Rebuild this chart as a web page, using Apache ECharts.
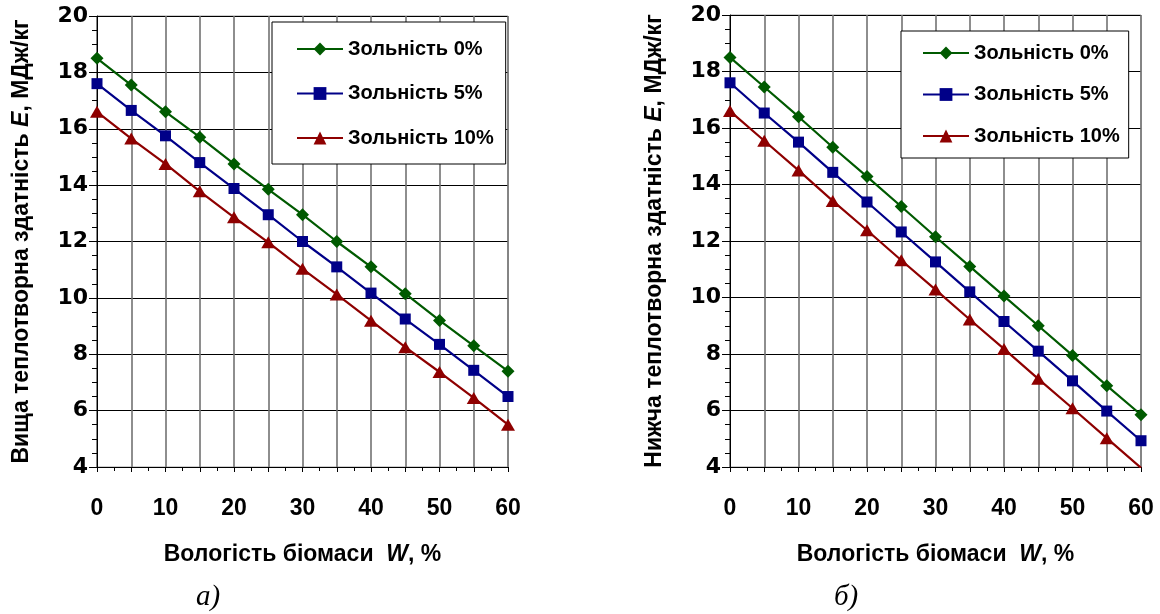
<!DOCTYPE html>
<html>
<head>
<meta charset="utf-8">
<script src="https://cdn.jsdelivr.net/npm/echarts@6/dist/echarts.min.js"></script>
<style>
html,body{margin:0;padding:0;background:#fff;}
#c{width:1160px;height:614px;}
</style>
</head>
<body>
<div id="c"></div>
<script>
// ---- data ----
const moisture = [0, 5, 10, 15, 20, 25, 30, 35, 40, 45, 50, 55, 60];
const seriesNames = ['Зольність 0%', 'Зольність 5%', 'Зольність 10%'];
// a) higher heating value
const higherAsh0  = [18.5, 17.55, 16.6, 15.7, 14.75, 13.85, 12.95, 12.0, 11.1, 10.15, 9.2, 8.3, 7.4];
const higherAsh5  = [17.6, 16.65, 15.75, 14.8, 13.88, 12.95, 12.0, 11.1, 10.17, 9.25, 8.35, 7.43, 6.5];
const higherAsh10 = [16.6, 15.65, 14.75, 13.78, 12.86, 11.97, 11.03, 10.12, 9.19, 8.25, 7.37, 6.45, 5.5];
// б) lower heating value
const lowerAsh0  = [18.5, 17.45, 16.4, 15.32, 14.28, 13.22, 12.15, 11.1, 10.05, 9.0, 7.95, 6.88, 5.85];
const lowerAsh5  = [17.6, 16.53, 15.5, 14.43, 13.38, 12.32, 11.26, 10.2, 9.15, 8.1, 7.05, 5.98, 4.93];
const lowerAsh10 = [16.6, 15.55, 14.5, 13.42, 12.38, 11.32, 10.28, 9.22, 8.18, 7.12, 6.08, 5.02, 3.97];
const yTitleA = ['Вища теплотворна здатність ', 'E', ', МДж/кг'];
const yTitleB = ['Нижча теплотворна здатність ', 'E', ', МДж/кг'];
const xTitle = ['Вологість біомаси  ', 'W', ', %'];
const captions = ['а)', 'б)'];

// ---- styles ----
const colors = ['#005a00', '#000088', '#8e0000'];
const symbols = ['diamond', 'rect', 'triangle'];
const symbolSizes = [[13, 13], 11, [14, 12]];
const FONT = 'Liberation Sans, Arial, sans-serif';

function pairs(vals) { return moisture.map((m, i) => [m, vals[i]]); }

function richTitle(t) { return '{b|' + t[0] + '}{i|' + t[1] + '}{b|' + t[2] + '}'; }
const titleRich = {
  b: { fontFamily: FONT, fontWeight: 'bold', fontSize: 23, color: '#000' },
  i: { fontFamily: FONT, fontWeight: 'bold', fontStyle: 'italic', fontSize: 23, color: '#000' }
};

function makeX(idx) {
  return {
    type: 'value', gridIndex: idx, min: 0, max: 60, interval: 5,
    name: richTitle(xTitle),
    nameLocation: 'middle', nameGap: 76,
    nameTextStyle: { rich: titleRich },
    axisLine: { show: true, lineStyle: { color: '#000', width: 1 } },
    axisTick: { show: true, inside: false, length: 5, lineStyle: { color: '#000' } },
    minorTick: { show: true, splitNumber: 2, length: 4, lineStyle: { color: '#000' } },
    axisLabel: {
      margin: 30, fontFamily: FONT, fontWeight: 'bold', fontSize: 23, color: '#000',
      formatter: v => (v % 10 === 0 ? String(v) : '')
    },
    splitLine: { show: true, lineStyle: { color: '#727272', width: 1.6 } }
  };
}
function makeY(idx, t) {
  return {
    type: 'value', gridIndex: idx, min: 4, max: 20, interval: 2,
    name: richTitle(t),
    nameLocation: 'middle', nameGap: 64, nameRotate: 90,
    nameTextStyle: { rich: titleRich },
    axisLine: { show: true, lineStyle: { color: '#000', width: 1 } },
    axisTick: { show: true, inside: false, length: 8, lineStyle: { color: '#000' } },
    minorTick: { show: true, splitNumber: 4, length: 5, lineStyle: { color: '#000' } },
    axisLabel: { margin: 9, fontFamily: 'DejaVu Sans, sans-serif', fontWeight: 'bold', fontSize: 22, color: '#000' },
    splitLine: { show: true, lineStyle: { color: '#000', width: 1 } }
  };
}
function makeSeries(idx, dataSets) {
  return dataSets.map((d, k) => ({
    type: 'line', name: seriesNames[k], xAxisIndex: idx, yAxisIndex: idx,
    data: pairs(d), symbol: symbols[k], symbolSize: symbolSizes[k],
    showAllSymbol: true,
    lineStyle: { color: colors[k], width: 2.2 },
    itemStyle: { color: colors[k] },
    z: 3 + k, animation: false
  }));
}
function makeLegend(left, top, gap, pad) {
  return {
    orient: 'vertical', left: left, top: top, itemGap: gap, padding: pad,
    itemWidth: 46, itemHeight: 16,
    backgroundColor: '#fff', borderColor: '#000', borderWidth: 1,
    textStyle: { fontFamily: FONT, fontWeight: 'bold', fontSize: 20, color: '#000', lineHeight: 20 },
    data: seriesNames, selectedMode: false
  };
}

const chart = echarts.init(document.getElementById('c'), null, { renderer: 'canvas' });
chart.setOption({
  animation: false,
  backgroundColor: '#fff',
  grid: [
    { left: 97, top: 16, width: 411, height: 451, show: true, borderColor: '#a0a0a0', borderWidth: 1, backgroundColor: 'transparent' },
    { left: 730, top: 15, width: 411, height: 452, show: true, borderColor: '#a0a0a0', borderWidth: 1, backgroundColor: 'transparent' }
  ],
  xAxis: [makeX(0), makeX(1)],
  yAxis: [makeY(0, yTitleA), makeY(1, yTitleB)],
  legend: [makeLegend(272, 22, 24.5, [17, 12, 16, 24]), makeLegend(901, 31, 21.5, [12, 9, 12, 21])],
  series: makeSeries(0, [higherAsh0, higherAsh5, higherAsh10]).concat(makeSeries(1, [lowerAsh0, lowerAsh5, lowerAsh10])),
  graphic: [
    { type: 'text', left: 196, top: 583, style: { text: captions[0], font: 'italic 29px "Liberation Serif", "Times New Roman", serif', fill: '#000' } },
    { type: 'text', left: 834, top: 583, style: { text: captions[1], font: 'italic 29px "Liberation Serif", "Times New Roman", serif', fill: '#000' } }
  ]
});
</script>
</body>
</html>
